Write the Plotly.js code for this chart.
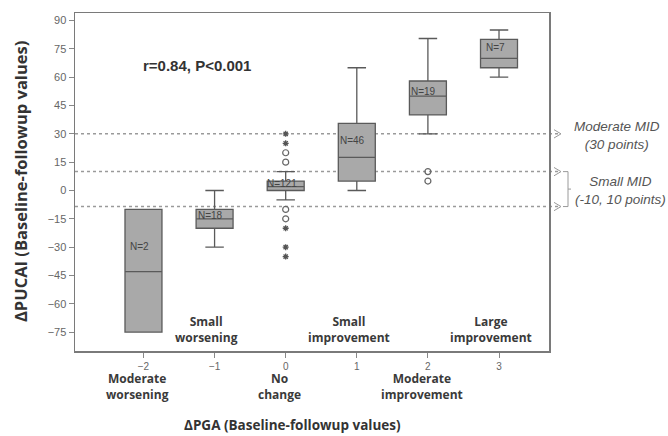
<!DOCTYPE html>
<html><head><meta charset="utf-8">
<script src="https://cdn.plot.ly/plotly-3.0.1.min.js"></script>
<style>html,body{margin:0;padding:0;background:#fff}#chart{width:668px;height:436px}</style>
</head><body><div id="chart"></div>
<script>
// ---- data ----
const pgaCats   = [-2, -1, 0, 1, 2, 3];
const nCounts   = [2, 18, 121, 46, 19, 7];
const q1Vals    = [-75, -20, 0, 5, 40, 65];
const medVals   = [-43, -15, 2, 17.5, 50, 70];
const q3Vals    = [-10, -10, 5, 35.5, 58, 80];
const lowWhisk  = [-75, -30, -5, 0, 30, 60];
const highWhisk = [-10, 0, 10, 65, 80.5, 85];
const circleX   = [0, 0, 0, 0, 2, 2];
const circleY   = [20, 15, -10, -15, 10, 5];
const starX     = [0, 0, 0, 0, 0];
const starY     = [30, 25, -20, -30, -35];
const midLines  = [30, 10, -8.5];
const upperLabels = {x: [-1, 1, 3], text: ['Small<br>worsening', 'Small<br>improvement', 'Large<br>improvement']};
const lowerLabels = {x: [-2, 0, 2], text: ['Moderate<br>worsening', 'No<br>change', 'Moderate<br>improvement']};
const yTicks = [90, 75, 60, 45, 30, 15, 0, -15, -30, -45, -60, -75];

// ---- layout helpers ----
const L = 75, R = 549, T = 13, B = 351;
const px = p => (p - L) / (R - L);
const py = p => 1 - (p - T) / (B - T);

const traces = [{
  type: 'box', x: pgaCats, q1: q1Vals, median: medVals, q3: q3Vals,
  lowerfence: lowWhisk, upperfence: highWhisk,
  fillcolor: '#a9a9a9', line: {color: '#5a5a5a', width: 1.3},
  width: 0.52, whiskerwidth: 0.5, boxpoints: false, hoverinfo: 'skip', showlegend: false
}, {
  type: 'scatter', mode: 'markers', x: circleX, y: circleY,
  marker: {symbol: 'circle-open', size: 6, color: '#666', line: {width: 1.2}}, showlegend: false
}, {
  type: 'scatter', mode: 'markers', x: starX, y: starY,
  marker: {symbol: 'asterisk-open', size: 5, color: '#555', line: {width: 1.3}}, showlegend: false
}];

const shapes = [];
midLines.forEach(v => {
  shapes.push({type: 'line', xref: 'paper', yref: 'y', x0: 0, x1: px(561), y0: v, y1: v,
    line: {color: '#9a9a9a', width: 1.5, dash: 'dot'}, layer: 'below'});
  shapes.push({type: 'path', xref: 'paper', yref: 'y',
    path: `M ${px(554)} ${v + 2.2} L ${px(561)} ${v} L ${px(554)} ${v - 2.2}`,
    line: {color: '#9a9a9a', width: 1}});
});
// bracket for small MID
shapes.push({type: 'path', xref: 'paper', yref: 'y',
  path: `M ${px(563)} ${midLines[1]} L ${px(568)} ${midLines[1]} L ${px(568)} ${midLines[2]} L ${px(563)} ${midLines[2]} M ${px(568)} ${(midLines[1] + midLines[2]) / 2} L ${px(571)} ${(midLines[1] + midLines[2]) / 2}`,
  line: {color: '#9a9a9a', width: 1}});

const annotations = [];
pgaCats.forEach((c, i) => {
  annotations.push({x: c, y: q3Vals[i] - 0.3 * (q3Vals[i] - q1Vals[i]), xref: 'x', yref: 'y',
    xanchor: 'center', text: 'N=' + nCounts[i], showarrow: false, xshift: -4,
    font: {family: 'Liberation Sans, Arial', size: 10, color: '#444'}});
});
const catFont = {family: 'Open Sans, Liberation Sans', size: 12, color: '#3a3a3a'};
upperLabels.x.forEach((c, i) => annotations.push({x: c, y: 0, xref: 'x', yref: 'paper', yanchor: 'bottom',
  xanchor: 'center', yshift: 3, xshift: -8, text: '<b>' + upperLabels.text[i] + '</b>', showarrow: false, font: catFont}));
lowerLabels.x.forEach((c, i) => annotations.push({x: c, y: 0, xref: 'x', yref: 'paper', yanchor: 'top',
  xanchor: 'center', yshift: -17, xshift: -6, text: '<b>' + lowerLabels.text[i] + '</b>', showarrow: false, font: catFont}));
annotations.push({x: px(197), y: py(65), xref: 'paper', yref: 'paper', xanchor: 'center', yanchor: 'middle',
  text: '<b>r=0.84, P&lt;0.001</b>', showarrow: false,
  font: {family: 'Liberation Sans, Arial', size: 15, color: '#333'}});
const midFont = {family: 'Liberation Sans, Arial', size: 13.5, color: '#555'};
annotations.push({x: px(617), y: py(135), xref: 'paper', yref: 'paper', xanchor: 'center', yanchor: 'middle',
  text: '<i>Moderate MID<br>(30 points)</i>', showarrow: false, font: midFont});
annotations.push({x: px(620), y: py(190), xref: 'paper', yref: 'paper', xanchor: 'center', yanchor: 'middle',
  text: '<i>Small MID<br>(-10, 10 points)</i>', showarrow: false, font: midFont});
// axis titles
annotations.push({x: px(292), y: py(425), xref: 'paper', yref: 'paper', xanchor: 'center', yanchor: 'middle',
  text: '<b>ΔPGA (Baseline-followup values)</b>', showarrow: false, borderpad: 0,
  font: {family: 'Open Sans, Liberation Sans', size: 13.5, color: '#333'}});
annotations.push({x: px(20), y: py(182), xref: 'paper', yref: 'paper', xanchor: 'center', yanchor: 'middle',
  textangle: -90, text: '<b>ΔPUCAI (Baseline-followup values)</b>', showarrow: false,
  font: {family: 'Open Sans, Liberation Sans', size: 16.5, color: '#333'}});

const layout = {
  width: 668, height: 436,
  margin: {l: L, r: 668 - R, t: T, b: 436 - B},
  paper_bgcolor: '#fff', plot_bgcolor: '#fff',
  xaxis: {range: [-2.963, 3.703], tickvals: pgaCats, ticks: 'outside', ticklen: 5, tickcolor: '#888',
    showgrid: false, zeroline: false, showline: true, mirror: true, linecolor: '#7a7a7a', linewidth: 1.5,
    tickfont: {family: 'Liberation Sans, Arial', size: 10, color: '#666'}},
  yaxis: {range: [-85, 94], tickvals: yTicks, ticks: 'outside', ticklen: 5, tickcolor: '#888',
    showgrid: false, zeroline: false, showline: true, mirror: true, linecolor: '#7a7a7a', linewidth: 1.5,
    tickfont: {family: 'Liberation Sans, Arial', size: 11, color: '#666'}},
  shapes: shapes, annotations: annotations, showlegend: false
};
Plotly.newPlot('chart', traces, layout, {staticPlot: true});
</script></body></html>
